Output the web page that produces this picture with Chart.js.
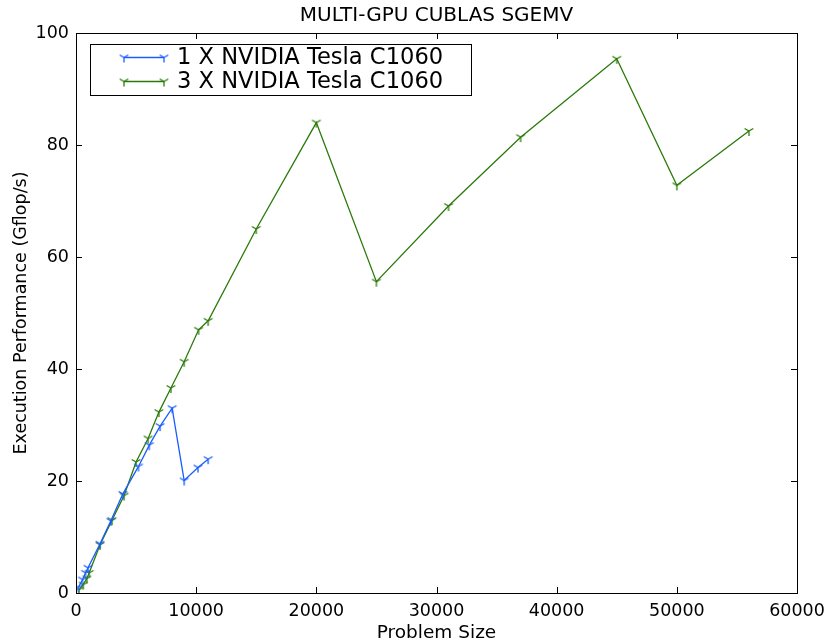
<!DOCTYPE html>
<html><head><meta charset="utf-8">
<script src="https://cdn.jsdelivr.net/npm/chart.js@4/dist/chart.umd.min.js"></script>
<style>html,body{margin:0;padding:0;background:#fff}#wrap{width:828px;height:644px}</style>
</head><body><div id="wrap"><canvas id="c" width="828" height="644"></canvas></div>
<script>
const titleText = 'MULTI-GPU CUBLAS SGEMV';
const xLabel = 'Problem Size';
const yLabel = 'Execution Performance (Gflop/s)';
const seriesNames = ['1 X NVIDIA Tesla C1060', '3 X NVIDIA Tesla C1060'];
const xTicks = [0, 10000, 20000, 30000, 40000, 50000, 60000];
const yTicks = [0, 20, 40, 60, 80, 100];

const oneGpuX = [200, 550, 800, 1000, 2000, 2900, 3900, 5200, 6100, 7000, 8000, 9000, 10150, 11000];
const oneGpuY = [1.0, 2.4, 3.6, 4.5, 8.8, 12.9, 17.7, 22.6, 26.4, 29.8, 33.0, 20.1, 22.4, 23.9];
const threeGpuX = [250, 600, 900, 1100, 2000, 3000, 4000, 5000, 6000, 6900, 7900, 9000, 10200, 11000, 15000, 20000, 25000, 31000, 37000, 45000, 50000, 56000];
const threeGpuY = [0.6, 1.5, 2.6, 3.6, 8.6, 13.0, 17.4, 23.4, 27.6, 32.3, 36.6, 41.3, 47.0, 48.6, 65.0, 84.0, 55.6, 69.1, 81.4, 95.4, 72.8, 82.5];

const blue = '#1a5cff';
const green = '#2a7a08';

function triDown(color){
  const s = 14, cv = document.createElement('canvas');
  cv.width = s; cv.height = s;
  const g = cv.getContext('2d');
  const c = s/2, r = 5;
  g.strokeStyle = color; g.lineWidth = 1.3;
  g.beginPath();
  g.moveTo(c, c); g.lineTo(c, c + r);
  g.moveTo(c, c); g.lineTo(c - r*0.87, c - r*0.5);
  g.moveTo(c, c); g.lineTo(c + r*0.87, c - r*0.5);
  g.stroke();
  return cv;
}
const mBlue = triDown(blue), mGreen = triDown(green);

const toPts = (xs, ys) => xs.map((x, i) => ({x, y: ys[i]}));

const framePlugin = {
  id: 'frame',
  afterDraw(chart){
    const {ctx, chartArea: a, scales} = chart;
    ctx.save();
    ctx.strokeStyle = '#000'; ctx.lineWidth = 1;
    ctx.strokeRect(Math.round(a.left)+0.5, Math.round(a.top)+0.5, Math.round(a.right-a.left), Math.round(a.bottom-a.top));
    ctx.beginPath();
    xTicks.forEach(v => {
      const px = Math.round(scales.x.getPixelForValue(v)) + 0.5;
      ctx.moveTo(px, a.bottom); ctx.lineTo(px, a.bottom - 6);
      ctx.moveTo(px, a.top); ctx.lineTo(px, a.top + 6);
    });
    yTicks.forEach(v => {
      const py = Math.round(scales.y.getPixelForValue(v)) + 0.5;
      ctx.moveTo(a.left, py); ctx.lineTo(a.left + 6, py);
      ctx.moveTo(a.right, py); ctx.lineTo(a.right - 6, py);
    });
    ctx.stroke();
    // title
    ctx.fillStyle = '#000';
    ctx.font = '20px "DejaVu Sans"';
    ctx.textAlign = 'center'; ctx.textBaseline = 'middle';
    ctx.fillText(titleText, (a.left + a.right)/2, 16);
    // legend
    const lx = 90, ly = 44, lw = 381, lh = 51;
    ctx.fillStyle = '#fff';
    ctx.fillRect(lx, ly, lw, lh);
    ctx.strokeStyle = '#000'; ctx.lineWidth = 1;
    ctx.strokeRect(lx + 0.5, ly + 0.5, lw, lh);
    const rows = [[seriesNames[0], blue, mBlue, 57], [seriesNames[1], green, mGreen, 81]];
    rows.forEach(([txt, col, mk, y]) => {
      ctx.strokeStyle = col; ctx.lineWidth = 1.3;
      ctx.beginPath(); ctx.moveTo(124, y + 0.5); ctx.lineTo(164, y + 0.5); ctx.stroke();
      ctx.drawImage(mk, 124 - 7, y - 7 + 0.5);
      ctx.drawImage(mk, 164 - 7, y - 7 + 0.5);
      ctx.fillStyle = '#000';
      ctx.font = '22.6px "DejaVu Sans"';
      ctx.textAlign = 'left'; ctx.textBaseline = 'middle';
      ctx.fillText(txt, 177, y + 1);
    });
    ctx.restore();
  }
};

new Chart(document.getElementById('c'), {
  type: 'line',
  data: {
    datasets: [
      {label: seriesNames[0], data: toPts(oneGpuX, oneGpuY), borderColor: blue, backgroundColor: blue, borderWidth: 1.3, pointStyle: mBlue, pointRadius: 5, fill: false, tension: 0},
      {label: seriesNames[1], data: toPts(threeGpuX, threeGpuY), borderColor: green, backgroundColor: green, borderWidth: 1.3, pointStyle: mGreen, pointRadius: 5, fill: false, tension: 0}
    ]
  },
  options: {
    responsive: false, animation: false, devicePixelRatio: 1,
    layout: {padding: {top: 33, right: 31, left: 0, bottom: 0}},
    plugins: {legend: {display: false}, tooltip: {enabled: false}, title: {display: false}},
    scales: {
      x: {
        type: 'linear', min: 0, max: 60000,
        grid: {display: false, drawTicks: false},
        border: {display: false},
        afterBuildTicks: s => { s.ticks = xTicks.map(v => ({value: v})); },
        ticks: {color: '#000', font: {family: 'DejaVu Sans', size: 17.5}, padding: 8, maxRotation: 0, callback: v => String(v)},
        title: {display: true, text: xLabel, color: '#000', font: {family: 'DejaVu Sans', size: 18.5}, padding: {top: 0, bottom: 0}},
        afterFit: s => { s.height = 51; s.paddingLeft = 0; s.paddingRight = 0; }
      },
      y: {
        type: 'linear', min: 0, max: 100,
        grid: {display: false, drawTicks: false},
        border: {display: false},
        afterBuildTicks: s => { s.ticks = yTicks.map(v => ({value: v})); },
        ticks: {color: '#000', font: {family: 'DejaVu Sans', size: 17.5}, padding: 7, callback: v => String(v)},
        title: {display: true, text: yLabel, color: '#000', font: {family: 'DejaVu Sans', size: 17.5}, padding: {top: 11, bottom: 0}},
        afterFit: s => { s.width = 76; s.paddingTop = 0; s.paddingBottom = 0; }
      }
    }
  },
  plugins: [framePlugin]
});
</script></body></html>
